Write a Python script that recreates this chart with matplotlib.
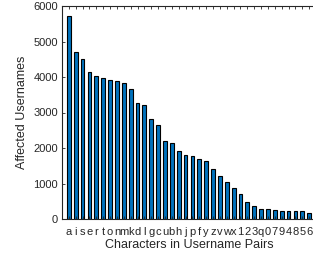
import numpy as np
import matplotlib
matplotlib.use("Agg")
import matplotlib.pyplot as plt

plt.rcParams['font.family'] = ['Liberation Sans', 'DejaVu Sans']

# characters found in username pairs, ordered by count
chars = ['a', 'i', 's', 'e', 'r', 't', 'o', 'n', 'm', 'k', 'd', 'l', 'g', 'c',
         'u', 'b', 'h', 'j', 'p', 'f', 'y', 'z', 'v', 'w', 'x', '1', '2', '3',
         'q', '0', '7', '9', '4', '8', '5', '6']
counts = [5720, 4710, 4500, 4140, 4040, 3960, 3910, 3890, 3830, 3650, 3260, 3200,
          2810, 2660, 2190, 2150, 1920, 1790, 1770, 1700, 1640, 1400, 1210, 1040,
          860, 710, 470, 360, 280, 280, 255, 235, 235, 215, 215, 180]

fig = plt.figure(figsize=(3.13, 2.58), dpi=100)
ax = fig.add_axes([62 / 313, (258 - 219) / 258, 254 / 313, 213 / 258])

x = np.arange(1, len(chars) + 1)
ax.bar(x, counts, width=0.55, color='#0072BD', edgecolor='black', linewidth=0.8)

ax.set_xlim(0, 37)
ax.set_ylim(0, 6000)
ax.set_yticks(np.arange(0, 6001, 1000))
ax.set_xticks(x)
ax.set_xticklabels(chars)

dark = '#262626'
for side in ['left', 'bottom', 'top', 'right']:
    ax.spines[side].set_color(dark)
    ax.spines[side].set_linewidth(0.8)
ax.tick_params(axis='both', direction='in', colors=dark, labelsize=8, length=2.5, width=0.6)
ax.tick_params(axis='x', top=True, pad=6)
ax.tick_params(axis='y', right=True, pad=3)

ax.set_xlabel("Characters in Username Pairs", fontsize=9, color=dark, labelpad=1)
ax.set_ylabel("Affected Usernames", fontsize=9, color=dark, labelpad=4)

fig.savefig("out.png", dpi=100)
